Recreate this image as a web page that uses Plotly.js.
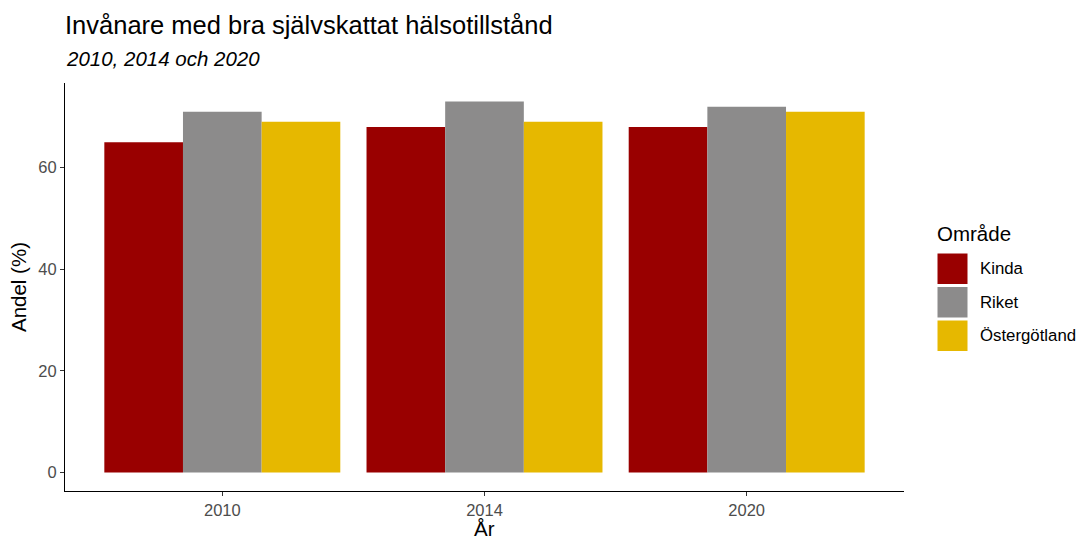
<!DOCTYPE html>
<html>
<head>
<meta charset="utf-8">
<script src="https://cdn.plot.ly/plotly-3.0.1.min.js"></script>
<style>html,body{margin:0;padding:0;background:#fff;}#chart{width:1079px;height:539px;}</style>
</head>
<body>
<div id="chart"></div>
<script>
const years = ['2010', '2014', '2020'];
const areas = ['Kinda', 'Riket', 'Östergötland'];
const kinda = [65, 68, 68];
const riket = [71, 73, 72];
const ostergotland = [69, 69, 71];
const colors = ['#990000', '#8c8b8b', '#e6b800'];
const seriesValues = [kinda, riket, ostergotland];
const xTitle = 'År';

const W = 1079, H = 539;
const L = 65, R = 175, T = 83, B = 48;
const pw = W - L - R, ph = H - T - B;
const px2x = p => (p - L) / pw;
const py2y = p => (H - B - p) / ph;

const traces = areas.map((a, i) => ({
  type: 'bar', name: a, x: years, y: seriesValues[i],
  marker: {color: colors[i], line: {width: 0}},
  showlegend: false, hoverinfo: 'x+y+name'
}));

const FONT = 'Liberation Sans, Arial, Helvetica, sans-serif';

const shapes = [];
const annotations = [];
// subtitle
annotations.push({xref: 'paper', yref: 'paper', x: px2x(64), y: py2y(58), xanchor: 'left', yanchor: 'middle',
  text: '<i>2010, 2014 och 2020</i>', showarrow: false, font: {family: FONT, size: 20.5, color: '#000'}});
// x axis title
annotations.push({xref: 'paper', yref: 'paper', x: 0.5, y: py2y(528), xanchor: 'center', yanchor: 'middle',
  borderpad: 0, text: xTitle, showarrow: false, font: {family: FONT, size: 20.5, color: '#000'}});
// legend title
annotations.push({xref: 'paper', yref: 'paper', x: px2x(935), y: py2y(233), xanchor: 'left', yanchor: 'middle',
  text: 'Område', showarrow: false, font: {family: FONT, size: 20.5, color: '#000'}});
areas.forEach((a, i) => {
  const top = 253 + i * 33.5, bot = top + 31.5;
  shapes.push({type: 'rect', xref: 'paper', yref: 'paper', x0: px2x(937), x1: px2x(968),
    y0: py2y(bot), y1: py2y(top), fillcolor: colors[i], line: {width: 1, color: '#ffffff'}, layer: 'above'});
  annotations.push({xref: 'paper', yref: 'paper', x: px2x(978), y: py2y((top + bot) / 2), xanchor: 'left', yanchor: 'middle',
    text: a, showarrow: false, font: {family: FONT, size: 16.8, color: '#000'}});
});

const layout = {
  width: W, height: H,
  margin: {l: L, r: R, t: T, b: B, pad: 0},
  paper_bgcolor: '#fff', plot_bgcolor: '#fff',
  font: {family: FONT},
  title: {text: 'Invånare med bra självskattat hälsotillstånd', xref: 'paper', x: 0, xanchor: 'left',
    yref: 'container', y: 1 - 25 / H, yanchor: 'middle', font: {family: FONT, size: 25.5, color: '#000'}},
  barmode: 'group', bargap: 0.1, bargroupgap: 0,
  xaxis: {type: 'category', range: [-0.6, 2.6], showgrid: false, zeroline: false,
    showline: true, linecolor: '#000', linewidth: 1.1,
    ticks: 'outside', ticklen: 4, tickcolor: '#333', tickwidth: 1.1,
    tickfont: {family: FONT, size: 16.5, color: '#4d4d4d'}},
  yaxis: {range: [-3.65, 76.65], tickvals: [0, 20, 40, 60], showgrid: false, zeroline: false,
    showline: true, linecolor: '#000', linewidth: 1.1,
    ticks: 'outside', ticklen: 4, tickcolor: '#333', tickwidth: 1.1,
    tickfont: {family: FONT, size: 16.5, color: '#4d4d4d'},
    title: {text: 'Andel (%)', font: {family: FONT, size: 20.5, color: '#000'}, standoff: 6}},
  shapes: shapes, annotations: annotations, showlegend: false
};

Plotly.newPlot('chart', traces, layout, {displayModeBar: false, staticPlot: true});
</script>
</body>
</html>
